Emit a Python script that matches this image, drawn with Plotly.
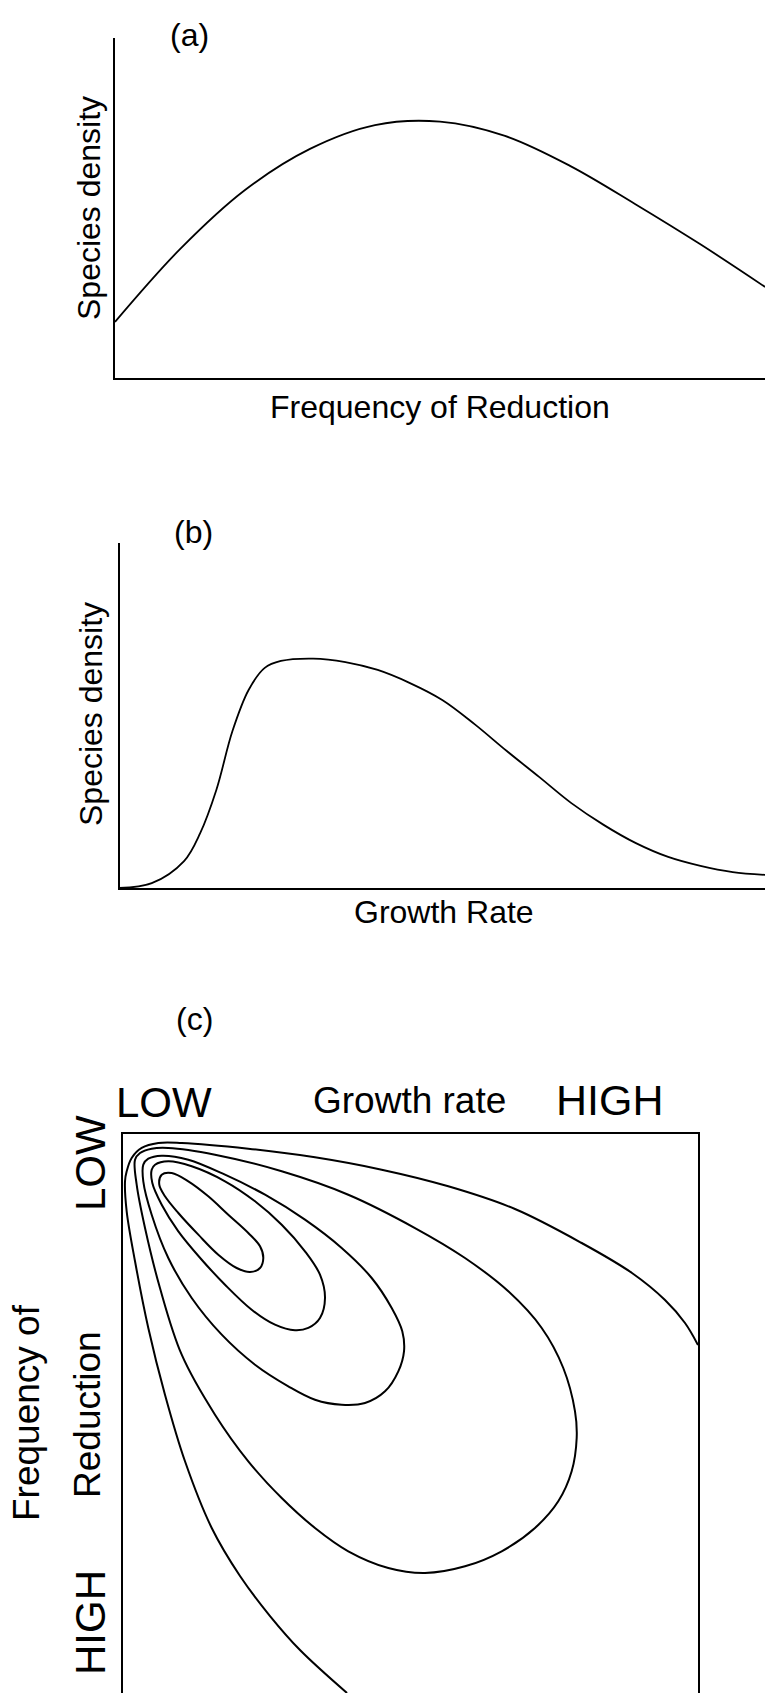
import plotly.graph_objects as go

W, H = 765, 1694
FONT = "Liberation Sans, Arial, sans-serif"

# ---------------- data ----------------
# (a) species density vs frequency of reduction (relative units)
a_freq = [0.0, 0.1, 0.2, 0.3, 0.4, 0.5, 0.6, 0.7, 0.8, 0.9, 1.0]
a_dens = [0.165, 0.379, 0.553, 0.674, 0.744, 0.754, 0.712, 0.624, 0.512, 0.394, 0.268]

# (b) species density vs growth rate (relative units)
b_growth = [0.0, 0.05, 0.1, 0.125, 0.15, 0.175, 0.2, 0.225, 0.25, 0.3, 0.35, 0.4, 0.45,
            0.5, 0.55, 0.6, 0.65, 0.7, 0.75, 0.8, 0.85, 0.9, 0.95, 1.0]
b_dens = [0.0, 0.014, 0.078, 0.159, 0.284, 0.455, 0.574, 0.638, 0.658, 0.665, 0.655, 0.632,
          0.594, 0.545, 0.475, 0.397, 0.322, 0.246, 0.183, 0.130, 0.090, 0.064, 0.046, 0.038]

# (c) contour lines of species density:
#     growth rate (0-100, low→high) vs frequency of reduction (0-100, low→high)
c1_growth = [14.83, 18.31, 21.79, 23.83, 24.40, 23.83, 22.09, 19.77, 16.57, 13.10, 9.62,
             7.30, 6.31, 6.73, 8.47, 11.36, 14.83]
c1_freq = [11.14, 14.44, 17.71, 20.09, 22.18, 23.97, 24.69, 23.97, 21.59, 18.01, 14.13,
           11.14, 9.07, 7.28, 6.98, 8.46, 11.14]

c2_growth = [17.74, 22.96, 27.60, 31.65, 34.26, 35.13, 34.26, 32.23, 29.91, 26.43, 22.38,
             17.74, 13.69, 9.62, 6.73, 5.10, 4.99, 5.57, 7.88, 11.95, 17.74]
c2_freq = [8.46, 12.04, 16.23, 20.98, 25.17, 29.34, 32.92, 34.70, 35.12, 34.11, 31.43,
           26.96, 22.49, 17.41, 12.65, 8.77, 6.39, 5.49, 4.88, 5.78, 8.46]

c3_growth = [24.70, 31.65, 38.03, 43.25, 46.73, 48.57, 48.87, 47.88, 45.57, 42.09, 38.03,
             33.39, 28.75, 22.96, 17.17, 11.95, 7.88, 4.99, 3.53, 3.53, 4.40, 6.73, 11.36,
             17.74, 24.70]
c3_freq = [10.86, 15.33, 20.39, 25.76, 31.13, 35.30, 38.87, 42.45, 46.03, 48.12, 48.43,
           47.53, 45.13, 41.27, 35.90, 29.34, 22.18, 14.44, 8.46, 5.49, 4.42, 3.88, 4.60,
           7.28, 10.86]

c4_growth = [39.18, 50.78, 59.48, 67.01, 72.82, 76.57, 78.61, 78.90, 78.03, 75.70, 71.65,
             65.86, 59.48, 52.52, 46.14, 39.18, 33.39, 27.60, 21.79, 16.00, 10.21, 6.43,
             3.83, 2.38, 2.09, 2.96, 4.99, 7.88, 16.00, 27.60, 39.18]
c4_freq = [10.86, 16.82, 22.18, 28.14, 34.70, 41.86, 49.61, 54.38, 60.34, 65.71, 70.48,
           74.65, 77.34, 78.53, 77.64, 74.65, 70.48, 65.12, 58.55, 50.21, 39.48, 27.55,
           16.82, 9.07, 4.60, 3.40, 2.63, 2.50, 3.70, 6.67, 10.86]

c5_growth = [100.0, 97.74, 94.26, 88.52, 79.77, 68.17, 56.57, 44.99, 33.39, 21.79, 10.21,
             6.14, 3.25, 1.51, 0.64, 0.35, 0.64, 2.09, 4.40, 7.30, 10.78, 15.43, 20.35,
             25.57, 30.78, 38.96]
c5_freq = [37.75, 33.81, 29.70, 24.87, 19.50, 13.42, 9.36, 6.39, 4.17, 2.63, 1.61,
           1.61, 2.50, 4.29, 6.67, 8.46, 13.83, 22.77, 34.70, 46.64, 58.55, 70.48, 79.07,
           86.23, 92.31, 100.0]

contours = [(c1_growth, c1_freq), (c2_growth, c2_freq), (c3_growth, c3_freq),
            (c4_growth, c4_freq), (c5_growth, c5_freq)]


# ---------------- helpers ----------------
def px_x(x):
    return x / W


def px_y(y):
    return 1 - y / H


fig = go.Figure()

fig.add_trace(go.Scatter(x=a_freq, y=a_dens, mode="lines",
                         line=dict(shape="spline", smoothing=1.0, color="black", width=1.8),
                         xaxis="x", yaxis="y", hoverinfo="skip"))
fig.add_trace(go.Scatter(x=b_growth, y=b_dens, mode="lines",
                         line=dict(shape="spline", smoothing=1.0, color="black", width=1.8),
                         xaxis="x2", yaxis="y2", hoverinfo="skip"))
for gx, fy in contours:
    fig.add_trace(go.Scatter(x=gx, y=fy, mode="lines",
                             line=dict(shape="spline", smoothing=1.0, color="black", width=2.0),
                             xaxis="x3", yaxis="y3", hoverinfo="skip"))

ax_common = dict(showgrid=False, zeroline=False, showticklabels=False, ticks="",
                 showline=True, linecolor="black", linewidth=2.4, fixedrange=True)

fig.update_layout(
    width=W, height=H,
    margin=dict(l=0, r=0, t=0, b=0),
    paper_bgcolor="white", plot_bgcolor="white",
    showlegend=False,
    font=dict(family=FONT, color="black"),
    xaxis=dict(domain=[px_x(115), 1.0], range=[0, 1], anchor="y", **ax_common),
    yaxis=dict(domain=[px_y(378), px_y(38)], range=[0, 1], anchor="x", **ax_common),
    xaxis2=dict(domain=[px_x(119.5), 1.0], range=[0, 1], anchor="y2", **ax_common),
    yaxis2=dict(domain=[px_y(888), px_y(543)], range=[0, 1], anchor="x2", **ax_common),
    xaxis3=dict(domain=[px_x(123), px_x(698)], range=[0, 100], anchor="y3", side="top",
                mirror=False, **ax_common),
    yaxis3=dict(domain=[px_y(1693), px_y(1134)], range=[100, 0], anchor="x3", mirror=True,
                **ax_common),
)


def label(text, x, y, size, angle=0):
    fig.add_annotation(text=text, x=px_x(x), y=px_y(y), xref="paper", yref="paper",
                       xanchor="center", yanchor="middle", showarrow=False, textangle=angle,
                       font=dict(family=FONT, size=size, color="black"))


# panel (a)
label("(a)", 189, 35, 32)
label("Species density", 89, 208, 32, -90)
label("Frequency of Reduction", 440, 407, 32)
# panel (b)
label("(b)", 193, 532, 32)
label("Species density", 91, 714, 32, -90)
label("Growth Rate", 444, 912, 32)
# panel (c)
label("(c)", 194, 1019, 32)
label("LOW", 164, 1102, 42)
label("Growth rate", 409, 1100, 37)
label("HIGH", 610, 1100, 43)
label("LOW", 90, 1163, 42, -90)
label("Frequency of", 26, 1413, 37, -90)
label("Reduction", 87, 1415, 37, -90)
label("HIGH", 90, 1623, 42, -90)

fig.write_html("out.html")
